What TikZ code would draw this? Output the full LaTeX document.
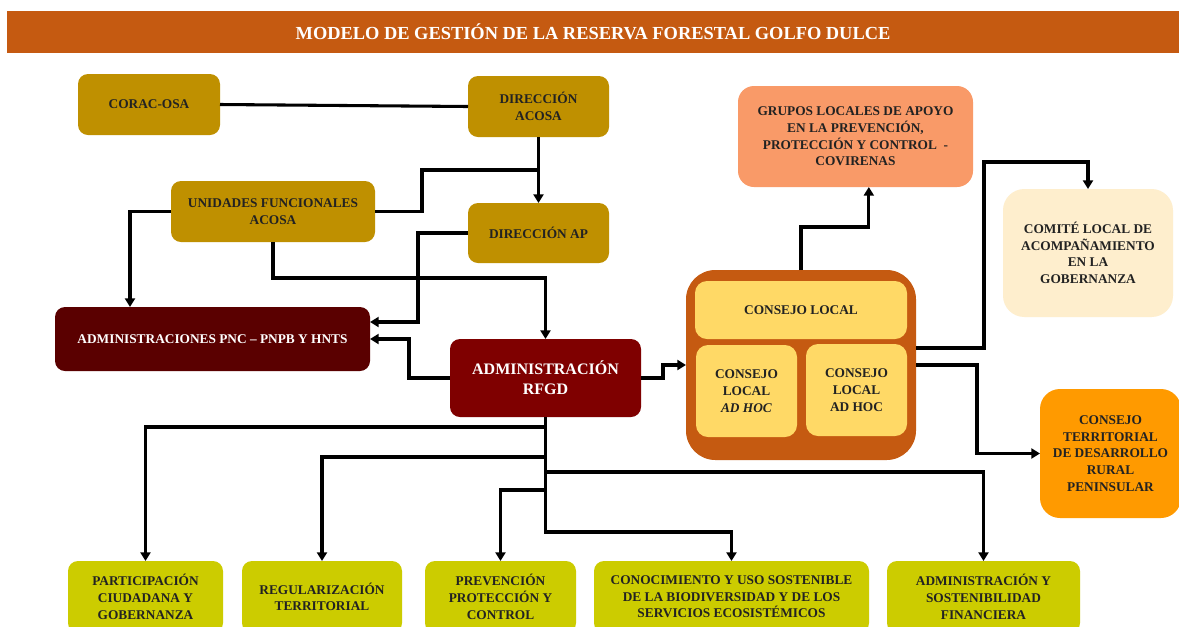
\documentclass[tikz,border=0pt]{standalone}
\usepackage{fontspec}
\setmainfont{Liberation Serif}
\usetikzlibrary{arrows.meta}
\definecolor{titlebar}{HTML}{C55A11}
\definecolor{gold}{HTML}{BF9000}
\definecolor{darkred}{HTML}{5A0000}
\definecolor{maroon}{HTML}{7F0000}
\definecolor{container}{HTML}{C55A11}
\definecolor{inner}{HTML}{FFD966}
\definecolor{salmon}{HTML}{F99A68}
\definecolor{cream}{HTML}{FEEECD}
\definecolor{orange}{HTML}{FF9A00}
\definecolor{olive}{HTML}{CCCC00}
\definecolor{txt}{HTML}{222222}
\begin{document}
\begin{tikzpicture}[x=0.75pt,y=-0.75pt,
  box/.style={rounded corners=7.5pt, inner sep=0pt, outer sep=0pt, align=center,
    font=\bfseries\fontsize{10}{12.5}\selectfont, text=txt},
  goldbox/.style={box, fill=gold},
  olivebox/.style={box, fill=olive, minimum height=54pt},
  innerbox/.style={box, fill=inner, rounded corners=9pt},
  lin/.style={line width=2.3pt},
  arr/.style={line width=2.3pt, -{Triangle[width=7.5pt,length=6.5pt]}}]
\useasboundingbox (0,0) rectangle (1179,626);
\clip (0,0) rectangle (1179,626);
\fill[white] (0,0) rectangle (1179,626);

% title
\node[fill=titlebar, minimum width=879pt, minimum height=31.5pt, inner sep=0pt, outer sep=0pt, text=white,
  font=\bfseries\fontsize{13.8}{16}\selectfont] (title) at (593,32) {MODELO DE GESTIÓN DE LA RESERVA FORESTAL GOLFO DULCE};

% top left boxes
\node[goldbox, minimum width=106.5pt, minimum height=45.75pt] (corac) at (149,104.5) {CORAC-OSA};
\node[goldbox, minimum width=105.75pt, minimum height=45.75pt] (dira) at (538.5,106.5) {DIRECCIÓN\\ACOSA};
\node[goldbox, minimum width=153pt, minimum height=45.75pt] (unid) at (273,211.5) {UNIDADES FUNCIONALES\\ACOSA};
\node[goldbox, minimum width=105.75pt, minimum height=45pt] (dirap) at (538.5,233) {DIRECCIÓN AP};
\node[box, fill=darkred, text=white, minimum width=236.25pt, minimum height=48pt] (pnc) at (212.5,339) {ADMINISTRACIONES PNC – PNPB Y HNTS};
\node[box, fill=maroon, text=white, font=\bfseries\fontsize{12}{15}\selectfont,
  minimum width=143.25pt, minimum height=58.5pt] (rfgd) at (545.5,378) {ADMINISTRACIÓN\\RFGD};

% consejo container
\node[box, fill=container, rounded corners=22pt, minimum width=172.5pt, minimum height=142.5pt] (cont) at (801,365) {};
\node[innerbox, minimum width=159pt, minimum height=43.5pt] (cl) at (801,310) {CONSEJO LOCAL};
\node[innerbox, minimum width=75.75pt, minimum height=69pt] (adhoc1) at (746.5,391) {CONSEJO\\LOCAL\\\textit{AD HOC}};
\node[innerbox, minimum width=75.75pt, minimum height=69pt] (adhoc2) at (856.5,390) {CONSEJO\\LOCAL\\AD HOC};

% right boxes
\node[box, fill=salmon, rounded corners=12pt, minimum width=176.25pt, minimum height=75.75pt] (grupos) at (855.5,136.5)
  {GRUPOS LOCALES DE APOYO\\EN LA PREVENCIÓN,\\PROTECCIÓN Y CONTROL\ \ -\\COVIRENAS};
\node[box, fill=cream, rounded corners=16pt, minimum width=127.5pt, minimum height=96pt] (comite) at (1088,253)
  {COMITÉ LOCAL DE\\ACOMPAÑAMIENTO\\EN LA\\GOBERNANZA};
\node[box, fill=orange, rounded corners=15pt, minimum width=105.75pt, minimum height=96.75pt] (terr) at (1110.5,453.5)
  {CONSEJO\\TERRITORIAL\\DE DESARROLLO\\RURAL\\PENINSULAR};

% bottom row
\node[olivebox, minimum width=116.25pt] (part) at (145.5,597) {PARTICIPACIÓN\\CIUDADANA Y\\GOBERNANZA};
\node[olivebox, minimum width=120pt] (reg) at (322,597) {REGULARIZACIÓN\\TERRITORIAL};
\node[olivebox, minimum width=113.25pt] (prev) at (500.5,597) {PREVENCIÓN\\PROTECCIÓN Y\\CONTROL};
\node[olivebox, minimum width=206.25pt] (cono) at (731.5,597) {CONOCIMIENTO Y USO SOSTENIBLE\\DE LA BIODIVERSIDAD Y DE LOS\\SERVICIOS ECOSISTÉMICOS};
\node[olivebox, minimum width=144.75pt] (sost) at (983.5,597) {ADMINISTRACIÓN Y\\SOSTENIBILIDAD\\FINANCIERA};

% helper coordinates
\coordinate (j1) at (538.5,170);
\coordinate (xa) at (130,0);
\coordinate (j5) at (545.5,278);

% connectors
\draw[lin] (corac.east) -- (dira.west);
\draw[arr] (dira.south) -- (dirap.north);
\draw[lin] (unid.east) -- ++(47,0) |- (j1);
\draw[arr] (unid.west) -| (pnc.north -| xa);
\draw[arr] (unid.south) |- (j5) -- (rfgd.north);
\draw[arr] (dirap.west) -- ++(-50,0) |- ([yshift=12.75pt]pnc.east);
\draw[arr] (rfgd.west) -- ++(-41,0) |- (pnc.east);
\draw[arr] (rfgd.east) -- ++(22,0) |- (cont.west);
\draw[arr] (cont.north) -- ++(0,-43) -| ([xshift=10pt]grupos.south);
\draw[arr] ([yshift=12.75pt]cont.east) -- ++(68,0) |- ([yshift=20.25pt]comite.north) -- (comite.north);
\draw[arr] (cont.east) -- ++(61,0) |- (terr.west);

\draw[arr] (rfgd.south) -- ++(0,10) -| (part.north);
\draw[arr] (rfgd.south) -- ++(0,40) -| (reg.north);
\draw[arr] (rfgd.south) -- ++(0,55) -| (sost.north);
\draw[arr] (rfgd.south) -- ++(0,73) -| (prev.north);
\draw[arr] (rfgd.south) -- ++(0,115) -| (cono.north);
\end{tikzpicture}
\end{document}
